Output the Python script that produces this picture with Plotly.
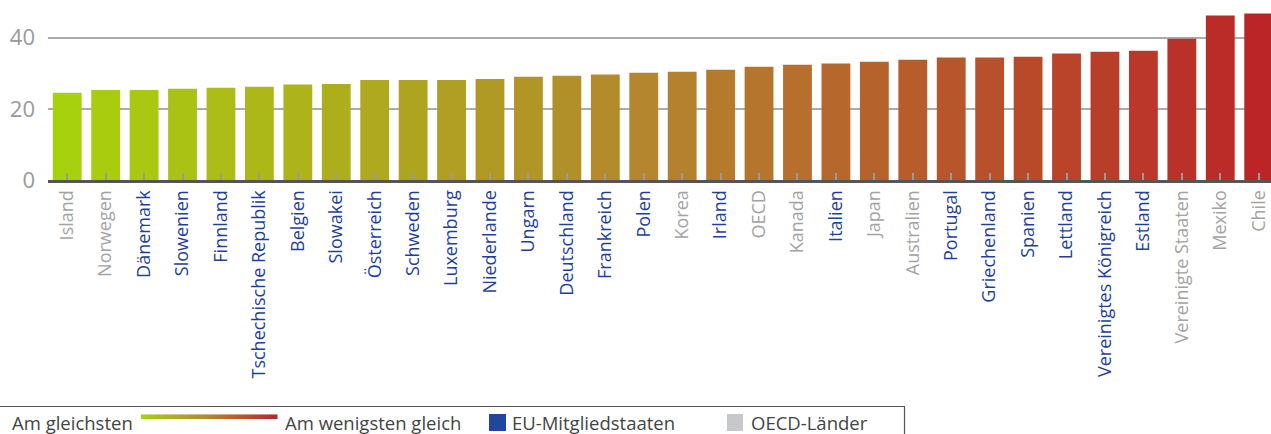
import plotly.graph_objects as go

# ---- data ----
countries = ["Island", "Norwegen", "Dänemark", "Slowenien", "Finnland", "Tschechische Republik",
             "Belgien", "Slowakei", "Österreich", "Schweden", "Luxemburg", "Niederlande", "Ungarn",
             "Deutschland", "Frankreich", "Polen", "Korea", "Irland", "OECD", "Kanada", "Italien",
             "Japan", "Australien", "Portugal", "Griechenland", "Spanien", "Lettland",
             "Vereinigtes Königreich", "Estland", "Vereinigte Staaten", "Mexiko", "Chile"]
values = [24.5, 25.3, 25.3, 25.6, 25.9, 26.2, 26.8, 27.0, 28.1, 28.1, 28.1, 28.4, 29.0,
          29.3, 29.6, 30.1, 30.4, 31.0, 31.8, 32.4, 32.7, 33.2, 33.8, 34.4, 34.4, 34.6,
          35.5, 36.0, 36.3, 39.7, 46.2, 46.8]
is_eu = [False, False, True, True, True, True, True, True, True, True, True, True, True,
         True, True, True, False, True, False, False, True, False, False, True, True, True,
         True, True, True, False, False, False]
y_ticks = [0, 20, 40]
legend_labels = ["Am gleichsten", "Am wenigsten gleich", "EU-Mitgliedstaaten", "OECD-Länder"]

# ---- styling ----
W, H = 1271, 434
L, R, T, B = 48, 0, 2, 254
FONT = "Open Sans"
EU_COLOR = "#1f3f9c"
NONEU_COLOR = "#a3a3a3"
STOPS = [(0.0, (168, 209, 13)), (0.5, (180, 132, 46)), (1.0, (187, 37, 40))]


def grad(t):
    for (t0, c0), (t1, c1) in zip(STOPS[:-1], STOPS[1:]):
        if t <= t1:
            f = (t - t0) / (t1 - t0)
            return "rgb(%d,%d,%d)" % tuple(round(a + (b - a) * f) for a, b in zip(c0, c1))
    return "rgb(%d,%d,%d)" % STOPS[-1][1]


n = len(countries)
bar_colors = [grad(i / (n - 1)) for i in range(n)]
ticktext = ['<span style="color:%s">%s</span>' % (EU_COLOR if eu else NONEU_COLOR, c)
            for c, eu in zip(countries, is_eu)]

fig = go.Figure(go.Bar(x=list(range(n)), y=values, marker=dict(color=bar_colors, line=dict(width=0)),
                       width=0.75, hoverinfo="x+y"))

pw = W - L - R
ph = H - T - B


def px(x):
    return (x - L) / pw


def py(y):
    return (H - B - y) / ph


shapes = []
annotations = []
# legend frame lines
shapes.append(dict(type="line", xref="paper", yref="paper", x0=px(0), x1=px(905), y0=py(406.5), y1=py(406.5),
                   line=dict(color="#555555", width=1.2)))
shapes.append(dict(type="line", xref="paper", yref="paper", x0=px(904.5), x1=px(904.5), y0=py(406.5), y1=py(434),
                   line=dict(color="#555555", width=1.2)))
# gradient bar
gx0, gx1, steps = 141, 277, 68
for k in range(steps):
    a = gx0 + (gx1 - gx0) * k / steps
    b = gx0 + (gx1 - gx0) * (k + 1) / steps + 0.5
    shapes.append(dict(type="rect", xref="paper", yref="paper", x0=px(a), x1=px(b), y0=py(414.5), y1=py(419),
                       fillcolor=grad(k / (steps - 1)), line=dict(width=0), layer="above"))
# squares
shapes.append(dict(type="rect", xref="paper", yref="paper", x0=px(489), x1=px(506), y0=py(414), y1=py(431),
                   fillcolor="#1f47a0", line=dict(width=0)))
shapes.append(dict(type="rect", xref="paper", yref="paper", x0=px(727), x1=px(743), y0=py(414), y1=py(431),
                   fillcolor="#c7c8ca", line=dict(width=0)))
for text, x in zip(legend_labels, [10, 283, 510, 749]):
    annotations.append(dict(text=text, xref="paper", yref="paper", x=px(x), y=py(423), xanchor="left",
                            yanchor="middle", showarrow=False, font=dict(family=FONT, size=18.5, color="#444444")))

fig.update_layout(
    width=W, height=H,
    margin=dict(l=L, r=R, t=T, b=B, pad=0),
    plot_bgcolor="white", paper_bgcolor="white",
    showlegend=False,
    bargap=0.25,
    shapes=shapes,
    annotations=annotations,
    font=dict(family=FONT),
    xaxis=dict(
        tickmode="array", tickvals=list(range(n)), ticktext=ticktext,
        tickangle=-90, tickfont=dict(family=FONT, size=18),
        range=[-0.5, n - 0.68],
        showline=True, linecolor="#555555", linewidth=3,
        ticks="inside", tickson="boundaries", ticklen=7, tickcolor="#9a9a9a", tickwidth=1.5,
        showgrid=False, zeroline=False, fixedrange=True,
    ),
    yaxis=dict(
        range=[0, 50], tickvals=y_ticks, tickfont=dict(family=FONT, size=22, color="#9a9a9a"),
        showgrid=True, gridcolor="#ababab", gridwidth=1.5, zeroline=False, showline=False,
        ticks="", ticklabelstandoff=12, fixedrange=True,
    ),
)

fig.write_html("out.html", config={"displayModeBar": False},
               post_script="document.body.style.margin='0';document.body.style.overflow='hidden';")
